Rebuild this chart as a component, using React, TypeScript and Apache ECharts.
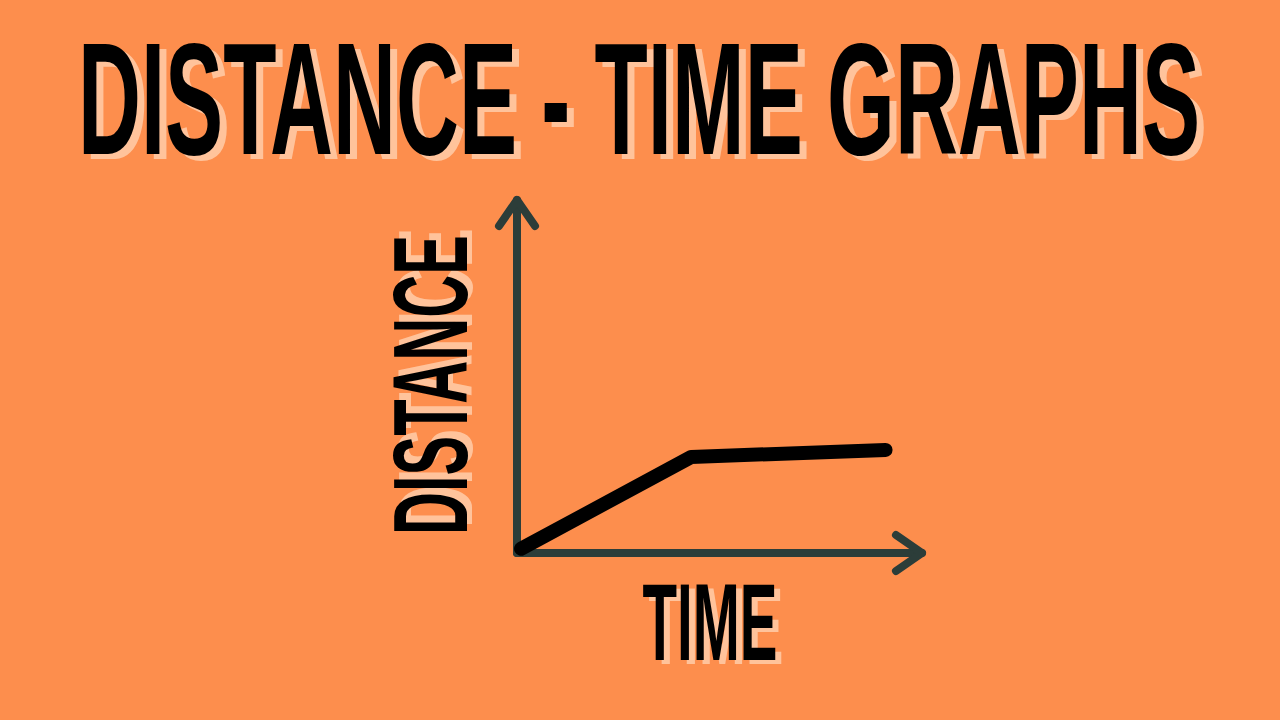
import { useEffect, useRef } from "react";
import * as echarts from "echarts";

const TITLE = "DISTANCE - TIME GRAPHS";
const X_NAME = "TIME";
const Y_NAME = "DISTANCE";

// hand-drawn line (time, distance on a 0..10 scale)
const time = [0.1, 4.3, 9.1];
const distance = [0.12, 2.72, 2.92];
const AXIS_MAX = 10;

const BG = "#fd8e4d";
const AXIS_COLOR = "#2c3d39";
const SHADOW = "#ffc39b";
const FONT_FAMILY = '"Liberation Sans", Arial, sans-serif';

function measure(text: string, size: number) {
  const ctx = document.createElement("canvas").getContext("2d");
  if (!ctx) return text.length * size * 0.5;
  ctx.font = `bold ${size}px ${FONT_FAMILY}`;
  return ctx.measureText(text).width;
}

// squeezed label with the peach drop shadow behind it
function shadowText(
  text: string,
  cx: number,
  cy: number,
  size: number,
  width: number,
  rotation: number,
  dx: number,
  dy: number,
) {
  const scaleX = width / measure(text, size);
  const style = {
    text,
    x: 0,
    y: 0,
    align: "center",
    verticalAlign: "middle",
    textAlign: "center",
    textVerticalAlign: "middle",
    font: `bold ${size}px ${FONT_FAMILY}`,
  };
  return [
    {
      type: "text",
      silent: true,
      rotation,
      scaleX,
      x: cx + dx,
      y: cy + dy,
      z: 10,
      style: { ...style, fill: SHADOW },
    },
    {
      type: "text",
      silent: true,
      rotation,
      scaleX,
      x: cx,
      y: cy,
      z: 11,
      style: { ...style, fill: "#000000" },
    },
  ];
}

function arrowHead(tip: number[], dir: "right" | "up") {
  const back = 26;
  const side = 18;
  const points =
    dir === "right"
      ? [
          [tip[0] - back, tip[1] - side],
          [tip[0], tip[1]],
          [tip[0] - back, tip[1] + side],
        ]
      : [
          [tip[0] - side, tip[1] + back],
          [tip[0], tip[1]],
          [tip[0] + side, tip[1] + back],
        ];
  return {
    type: "polyline",
    silent: true,
    z: 5,
    shape: { points },
    style: {
      stroke: AXIS_COLOR,
      fill: "none",
      lineWidth: 8,
      lineCap: "round",
      lineJoin: "round",
    },
  };
}

export default function App() {
  const chartRef = useRef<HTMLDivElement | null>(null);

  useEffect(() => {
    document.body.style.margin = "0";
    const el = chartRef.current;
    if (!el) return;

    const chart = echarts.init(el, null, { renderer: "svg" });

    const texts = [
      ...shadowText(TITLE, 639, 98, 160, 1122, 0, 7, 5),
      ...shadowText(Y_NAME, 430, 385, 106, 300, Math.PI / 2, 5, -7),
      ...shadowText(X_NAME, 710, 622, 110, 135, 0, 6, 4),
    ];

    chart.setOption({
      animation: false,
      backgroundColor: BG,
      grid: { left: 517, right: 358, top: 200, bottom: 167 },
      xAxis: {
        type: "value",
        min: 0,
        max: AXIS_MAX,
        axisLine: {
          show: true,
          lineStyle: { color: AXIS_COLOR, width: 8, cap: "round" },
        },
        axisTick: { show: false },
        axisLabel: { show: false },
        splitLine: { show: false },
      },
      yAxis: {
        type: "value",
        min: 0,
        max: AXIS_MAX,
        axisLine: {
          show: true,
          lineStyle: { color: AXIS_COLOR, width: 8, cap: "round" },
        },
        axisTick: { show: false },
        axisLabel: { show: false },
        splitLine: { show: false },
      },
      series: [
        {
          type: "line",
          data: time.map((t, i) => [t, distance[i]]),
          showSymbol: false,
          symbol: "none",
          lineStyle: { color: "#000000", width: 14, cap: "round", join: "round" },
          z: 3,
        },
      ],
      graphic: texts,
    });

    const xEnd = chart.convertToPixel({ gridIndex: 0 }, [AXIS_MAX, 0]) as number[];
    const yEnd = chart.convertToPixel({ gridIndex: 0 }, [0, AXIS_MAX]) as number[];

    chart.setOption({
      graphic: [...texts, arrowHead(xEnd, "right"), arrowHead(yEnd, "up")],
    });

    return () => {
      chart.dispose();
    };
  }, []);

  return (
    <div
      ref={chartRef}
      style={{ position: "fixed", left: 0, top: 0, width: 1280, height: 720 }}
    />
  );
}
